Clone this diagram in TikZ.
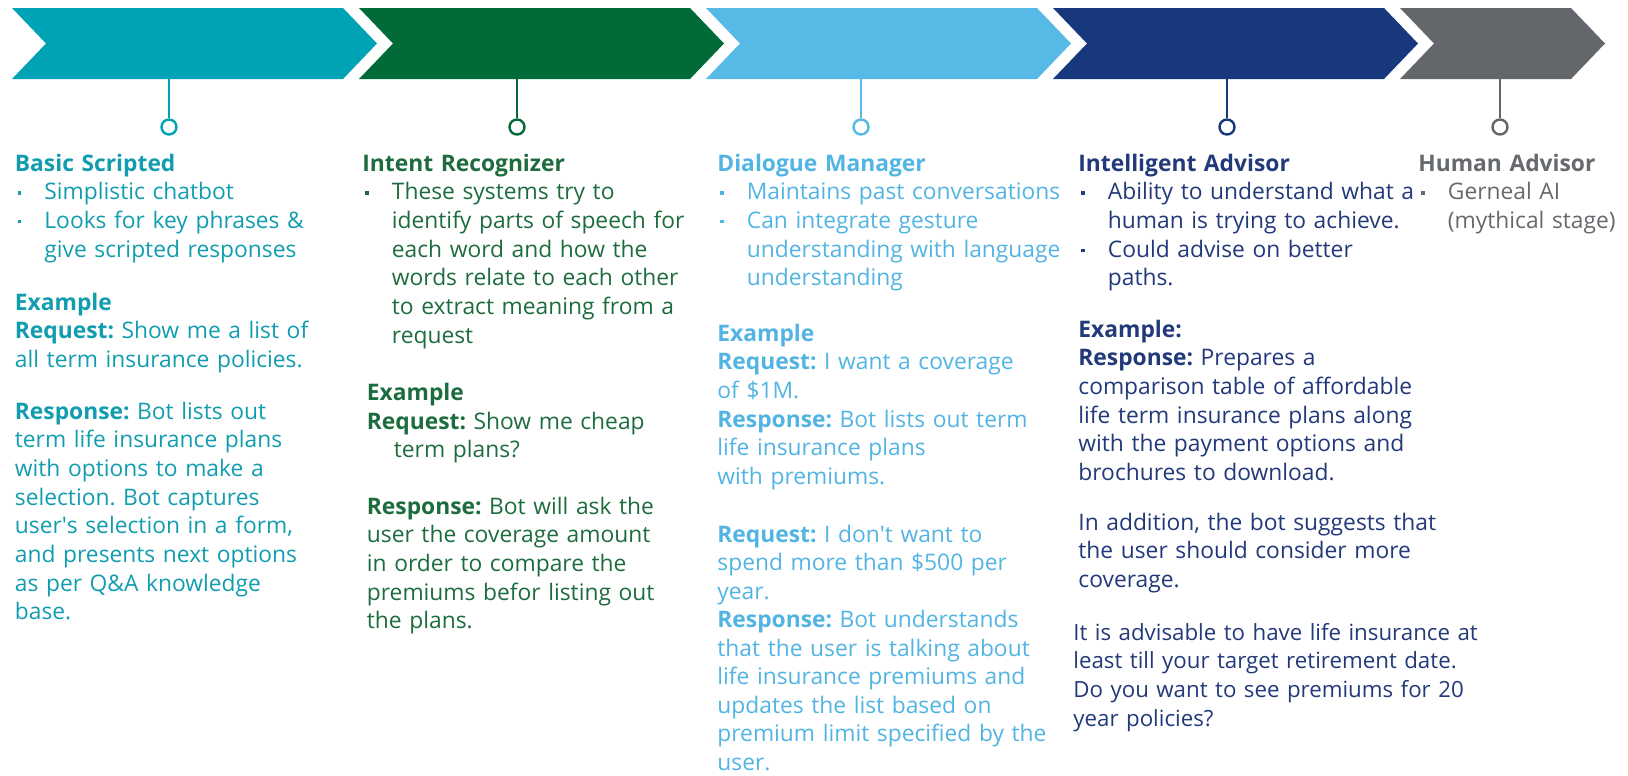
\documentclass[tikz,border=0pt]{standalone}
\usepackage{fontspec}
\setmainfont{Open Sans}
\usepackage{xcolor}
\usetikzlibrary{shapes.symbols}
\frenchspacing
\definecolor{stageA}{HTML}{00A3B5}
\definecolor{stageB}{HTML}{006B37}
\definecolor{stageC}{HTML}{56B9E6}
\definecolor{stageD}{HTML}{17387C}
\definecolor{stageE}{HTML}{63666A}
\definecolor{textA}{HTML}{119DAF}
\definecolor{textB}{HTML}{1D6C3E}
\definecolor{textC}{HTML}{52B4E2}
\definecolor{textD}{HTML}{22397A}
\definecolor{textE}{HTML}{66696D}
\newcommand\itemdot{\makebox[14.75pt][l]{\hspace{1.5pt}\raisebox{2.6pt}{\rule{1.7pt}{1.7pt}}}}
\newcommand\itemgap{\hspace*{14.75pt}}
\tikzset{
    every node/.style={font=\fontsize{11.4}{14.35}\selectfont},
    stage/.style={signal, signal from=west, signal to=east, signal pointer angle=92.5,
        minimum height=35.5pt, inner sep=0pt, outer sep=0pt},
    pinend/.style={circle, draw, line width=1.2pt, fill=white, minimum size=7.5pt, inner sep=0pt},
    stem/.style={line width=1.2pt},
    txt/.style={anchor=base west, inner sep=0pt, text width=260pt, align=left}
}
\begin{document}
\begin{tikzpicture}[x=0.5pt,y=-0.5pt]
        \useasboundingbox (0,0) rectangle (1628,776);

        \node[stage, fill=stageA, minimum width=182.5pt] (s1) at (194.5,43.5) {};
        \node[stage, fill=stageB, minimum width=182.5pt] (s2) at (541.5,43.5) {};
        \node[stage, fill=stageC, minimum width=182.5pt] (s3) at (888.5,43.5) {};
        \node[stage, fill=stageD, minimum width=182.5pt] (s4) at (1235.5,43.5) {};
        \node[stage, fill=stageE, minimum width=102.5pt] (s5) at (1502.5,43.5) {};

        \node[pinend, draw=stageA] (p1) at (169,127) {};
        \node[pinend, draw=stageB] (p2) at (517,127) {};
        \node[pinend, draw=stageC] (p3) at (861,127) {};
        \node[pinend, draw=stageD] (p4) at (1227,127) {};
        \node[pinend, draw=stageE] (p5) at (1500,127) {};

        \draw[stem, stageA] (s1.south -| p1) -- (p1);
        \draw[stem, stageB] (s2.south -| p2) -- (p2);
        \draw[stem, stageC] (s3.south -| p3) -- (p3);
        \draw[stem, stageD] (s4.south -| p4) -- (p4);
        \draw[stem, stageE] (s5.south -| p5) -- (p5);

        \node[txt, text=textA] (h1) at (14.5,171) {\textbf{Basic Scripted}\\
            \itemdot Simplistic chatbot\\
            \itemdot Looks for key phrases \&\\
            \itemgap give scripted responses};
        \node[txt, text=textA] (e1) at (14.5,310) {\textbf{Example}\\
            \textbf{Request:} Show me a list of\\
            all term insurance policies.};
        \node[txt, text=textA] (r1) at (14.5,419) {\textbf{Response:} Bot lists out\\
            term life insurance plans\\
            with options to make a\\
            selection. Bot captures\\
            user\textquotesingle s selection in a form,\\
            and presents next options\\
            as per Q\&A knowledge\\
            base.};

        \node[txt, text=textB] (h2) at (362,171) {\textbf{Intent Recognizer}\\
            \itemdot These systems try to\\
            \itemgap identify parts of speech for\\
            \itemgap each word and how the\\
            \itemgap words relate to each other\\
            \itemgap to extract meaning from a\\
            \itemgap request};
        \node[txt, text=textB] (e2) at (366.5,400.5) {\textbf{Example}\\
            \textbf{Request:} Show me cheap\\
            \hspace*{13.5pt}term plans?};
        \node[txt, text=textB] (r2) at (366.5,514) {\textbf{Response:} Bot will ask the\\
            user the coverage amount\\
            in order to compare the\\
            premiums befor listing out\\
            the plans.};

        \node[txt, text=textC] (h3) at (717,171) {\textbf{Dialogue Manager}\\
            \itemdot Maintains past conversations\\
            \itemdot Can integrate gesture\\
            \itemgap understanding with language\\
            \itemgap understanding};
        \node[txt, text=textC] (e3) at (717,341) {\textbf{Example}\\
            \textbf{Request:} I want a coverage\\
            of \$1M.\\
            \textbf{Response:} Bot lists out term\\
            life insurance plans\\
            with premiums.};
        \node[txt, text=textC, font=\fontsize{11.4}{14.25}\selectfont] (r3) at (717,542) {\textbf{Request:} I don\textquotesingle t want to\\
            spend more than \$500 per\\
            year.\\
            \textbf{Response:} Bot understands\\
            that the user is talking about\\
            life insurance premiums and\\
            updates the list based on\\
            premium limit specified by the\\
            user.};

        \node[txt, text=textD] (h4) at (1078,171) {\textbf{Intelligent Advisor}\\
            \itemdot Ability to understand what a\\
            \itemgap human is trying to achieve.\\
            \itemdot Could advise on better\\
            \itemgap paths.};
        \node[txt, text=textD] (e4) at (1078,337) {\textbf{Example:}\\
            \textbf{Response:} Prepares a\\
            comparison table of affordable\\
            life term insurance plans along\\
            with the payment options and\\
            brochures to download.};
        \node[txt, text=textD] (a4) at (1078,530) {In addition, the bot suggests that\\
            the user should consider more\\
            coverage.};
        \node[txt, text=textD, font=\fontsize{11.15}{14.35}\selectfont] (q4) at (1073,640) {It is advisable to have life insurance at\\
            least till your target retirement date.\\
            Do you want to see premiums for 20\\
            year policies?};

        \node[txt, text=textE] (h5) at (1418,171) {\textbf{Human Advisor}\\
            \itemdot Gerneal AI\\
            \itemgap (mythical stage)};
    \end{tikzpicture}
\end{document}
